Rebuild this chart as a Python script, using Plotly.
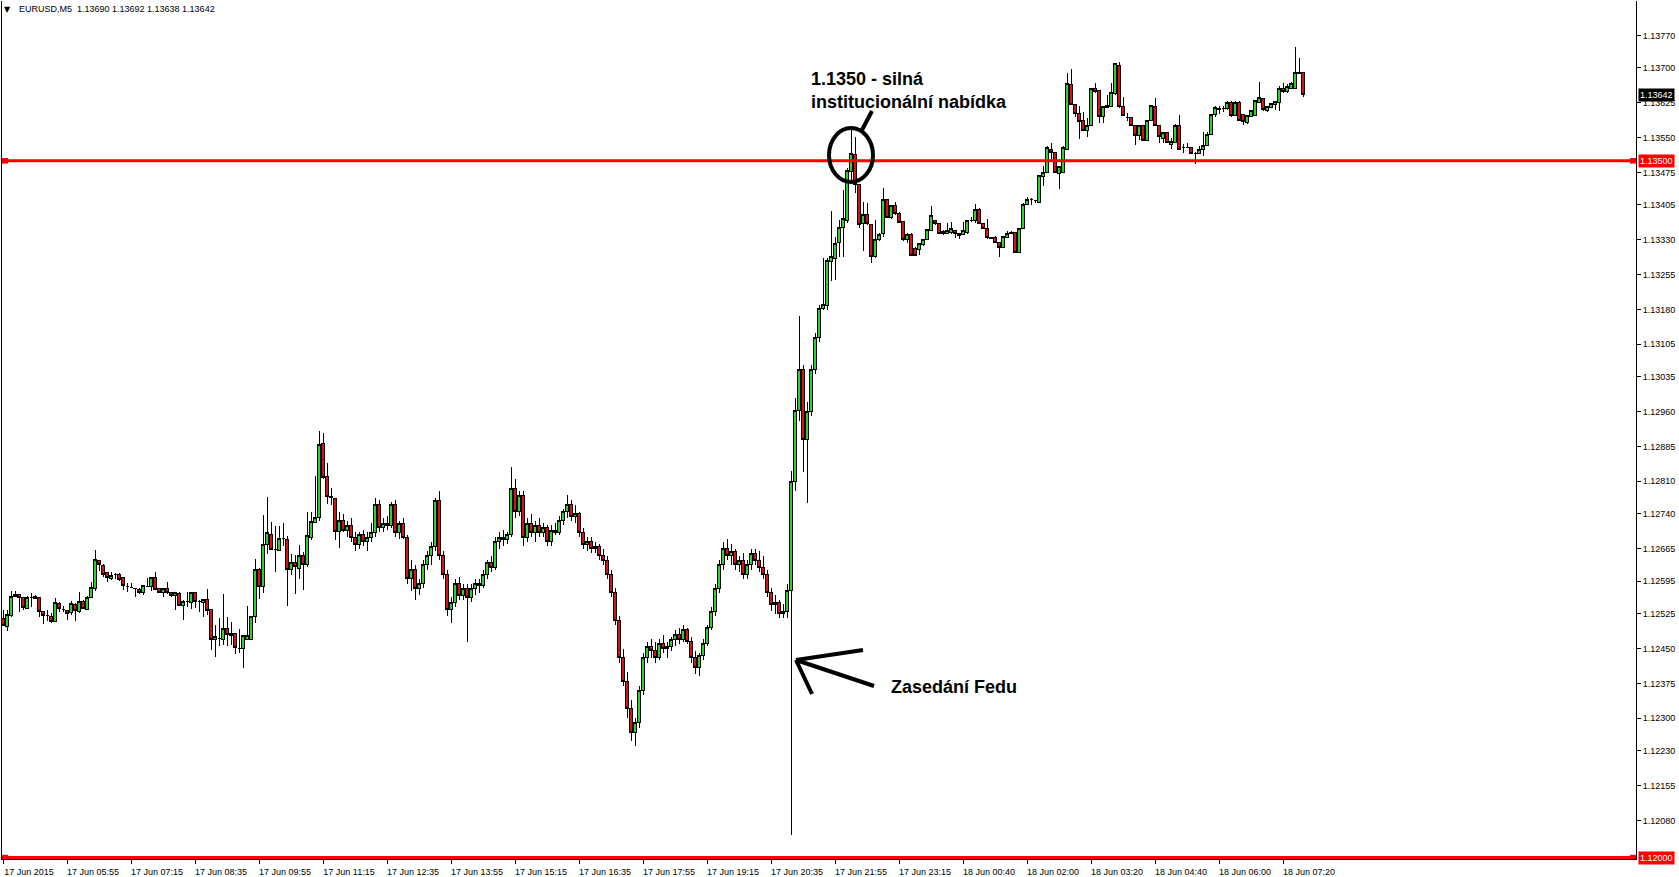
import plotly.graph_objects as go

# ---------------- data (EURUSD M5, prices) ----------------
opens = [
 1.12514,1.12498,1.12521,1.12562,1.12567,1.12559,1.12537,1.12561,1.12558,1.12561,
 1.12529,1.12522,1.12520,1.12509,1.12548,1.12535,1.12533,1.12527,1.12544,1.12530,
 1.12551,1.12535,1.12559,1.12580,1.12639,1.12629,1.12613,1.12600,1.12609,1.12609,
 1.12602,1.12584,1.12582,1.12580,1.12578,1.12571,1.12584,1.12584,1.12602,1.12579,
 1.12570,1.12579,1.12571,1.12565,1.12568,1.12543,1.12552,1.12550,1.12570,1.12551,
 1.12550,1.12555,1.12534,1.12470,1.12472,1.12469,1.12494,1.12478,1.12483,1.12451,
 1.12451,1.12469,1.12470,1.12519,1.12621,1.12584,1.12673,1.12696,1.12663,1.12661,
 1.12686,1.12684,1.12621,1.12636,1.12623,1.12650,1.12630,1.12690,1.12722,1.12733,
 1.12891,1.12821,1.12778,1.12774,1.12702,1.12726,1.12705,1.12715,1.12690,1.12675,
 1.12695,1.12680,1.12690,1.12700,1.12760,1.12710,1.12720,1.12715,1.12760,1.12700,
 1.12720,1.12690,1.12600,1.12620,1.12580,1.12590,1.12630,1.12650,1.12670,1.12768,
 1.12650,1.12610,1.12535,1.12550,1.12590,1.12565,1.12580,1.12560,1.12580,1.12590,
 1.12585,1.12610,1.12635,1.12625,1.12680,1.12690,1.12685,1.12695,1.12795,1.12745,
 1.12780,1.12690,1.12720,1.12700,1.12715,1.12700,1.12710,1.12680,1.12705,1.12700,
 1.12725,1.12745,1.12760,1.12735,1.12740,1.12700,1.12675,1.12680,1.12665,1.12670,
 1.12650,1.12640,1.12610,1.12570,1.12510,1.12430,1.12380,1.12320,1.12270,1.12290,
 1.12360,1.12430,1.12455,1.12445,1.12430,1.12460,1.12450,1.12455,1.12470,1.12480,
 1.12470,1.12490,1.12465,1.12430,1.12410,1.12435,1.12460,1.12495,1.12530,1.12580,
 1.12630,1.12665,1.12650,1.12660,1.12630,1.12640,1.12610,1.12630,1.12655,1.12640,
 1.12625,1.12610,1.12570,1.12545,1.12550,1.12525,1.12530,1.12575,1.12810,1.12963,
 1.13050,1.12900,1.12960,1.13050,1.13120,1.13181,1.13188,1.13283,1.13290,1.13324,
 1.13357,1.13372,1.13477,1.13514,1.13448,1.13364,1.13384,1.13362,1.13294,1.13330,
 1.13343,1.13416,1.13377,1.13403,1.13387,1.13369,1.13331,1.13342,1.13312,1.13310,
 1.13319,1.13331,1.13350,1.13371,1.13364,1.13348,1.13344,1.13346,1.13349,1.13344,
 1.13342,1.13346,1.13372,1.13372,1.13396,1.13364,1.13354,1.13335,1.13334,1.13325,
 1.13314,1.13335,1.13343,1.13346,1.13303,1.13354,1.13407,1.13416,1.13415,1.13410,
 1.13466,1.13475,1.13525,1.13518,1.13473,1.13475,1.13525,1.13665,1.13621,1.13601,
 1.13586,1.13565,1.13575,1.13656,1.13651,1.13595,1.13615,1.13617,1.13644,1.13705,
 1.13616,1.13594,1.13594,1.13576,1.13554,1.13575,1.13544,1.13586,1.13616,1.13575,
 1.13549,1.13560,1.13536,1.13540,1.13575,1.13529,1.13529,1.13529,1.13516,1.13516,
 1.13525,1.13534,1.13557,1.13600,1.13610,1.13613,1.13612,1.13626,1.13597,1.13626,
 1.13599,1.13583,1.13595,1.13597,1.13626,1.13635,1.13608,1.13615,1.13622,1.13626,
 1.13656,1.13649,1.13656,1.13656,1.13690,1.13690]
highs = [
 1.12532,1.12532,1.12575,1.12575,1.12567,1.12559,1.12564,1.12570,1.12565,1.12561,
 1.12529,1.12534,1.12527,1.12559,1.12550,1.12542,1.12533,1.12553,1.12548,1.12571,
 1.12555,1.12563,1.12593,1.12663,1.12641,1.12633,1.12615,1.12614,1.12613,1.12613,
 1.12602,1.12591,1.12592,1.12581,1.12580,1.12587,1.12602,1.12605,1.12615,1.12580,
 1.12580,1.12593,1.12571,1.12572,1.12571,1.12555,1.12571,1.12572,1.12570,1.12555,
 1.12557,1.12578,1.12534,1.12501,1.12516,1.12568,1.12518,1.12507,1.12483,1.12492,
 1.12480,1.12542,1.12521,1.12643,1.12623,1.12738,1.12776,1.12722,1.12713,1.12713,
 1.12720,1.12692,1.12654,1.12651,1.12672,1.12658,1.12744,1.12744,1.12822,1.12919,
 1.12915,1.12850,1.12796,1.12775,1.12743,1.12740,1.12725,1.12730,1.12700,1.12700,
 1.12705,1.12700,1.12720,1.12775,1.12770,1.12730,1.12735,1.12765,1.12770,1.12725,
 1.12730,1.12695,1.12640,1.12630,1.12600,1.12640,1.12660,1.12680,1.12775,1.12790,
 1.12660,1.12620,1.12560,1.12600,1.12605,1.12590,1.12590,1.12590,1.12600,1.12600,
 1.12620,1.12640,1.12650,1.12690,1.12700,1.12705,1.12700,1.12840,1.12815,1.12790,
 1.12790,1.12730,1.12740,1.12725,1.12730,1.12720,1.12715,1.12715,1.12720,1.12735,
 1.12750,1.12780,1.12770,1.12760,1.12745,1.12710,1.12690,1.12690,1.12680,1.12675,
 1.12665,1.12650,1.12620,1.12580,1.12520,1.12450,1.12400,1.12340,1.12300,1.12370,
 1.12440,1.12465,1.12470,1.12465,1.12470,1.12480,1.12465,1.12475,1.12490,1.12495,
 1.12500,1.12495,1.12475,1.12445,1.12440,1.12470,1.12500,1.12540,1.12590,1.12640,
 1.12680,1.12685,1.12675,1.12665,1.12650,1.12655,1.12640,1.12665,1.12665,1.12660,
 1.12650,1.12620,1.12580,1.12565,1.12555,1.12545,1.12590,1.12832,1.12990,1.13166,
 1.13060,1.12980,1.13060,1.13130,1.13190,1.13290,1.13290,1.13392,1.13336,1.13373,
 1.13438,1.13485,1.13570,1.13551,1.13448,1.13412,1.13410,1.13362,1.13373,1.13344,
 1.13441,1.13417,1.13405,1.13411,1.13389,1.13369,1.13344,1.13344,1.13314,1.13321,
 1.13331,1.13354,1.13402,1.13373,1.13364,1.13350,1.13366,1.13369,1.13351,1.13344,
 1.13369,1.13373,1.13380,1.13407,1.13398,1.13364,1.13375,1.13336,1.13339,1.13325,
 1.13339,1.13348,1.13348,1.13346,1.13355,1.13409,1.13423,1.13420,1.13416,1.13468,
 1.13489,1.13531,1.13538,1.13518,1.13489,1.13532,1.13689,1.13697,1.13621,1.13617,
 1.13606,1.13592,1.13656,1.13667,1.13651,1.13617,1.13642,1.13667,1.13710,1.13712,
 1.13637,1.13603,1.13594,1.13576,1.13575,1.13575,1.13586,1.13621,1.13635,1.13575,
 1.13561,1.13560,1.13549,1.13579,1.13599,1.13537,1.13538,1.13529,1.13518,1.13532,
 1.13563,1.13563,1.13600,1.13617,1.13617,1.13618,1.13628,1.13628,1.13628,1.13628,
 1.13599,1.13597,1.13610,1.13629,1.13669,1.13636,1.13617,1.13623,1.13629,1.13660,
 1.13667,1.13665,1.13669,1.13746,1.13721,1.13692]
lows = [
 1.12498,1.12487,1.12518,1.12560,1.12528,1.12532,1.12537,1.12539,1.12557,1.12519,
 1.12502,1.12510,1.12506,1.12509,1.12528,1.12529,1.12511,1.12523,1.12509,1.12527,
 1.12535,1.12535,1.12559,1.12575,1.12618,1.12605,1.12594,1.12598,1.12600,1.12595,
 1.12577,1.12571,1.12580,1.12560,1.12567,1.12565,1.12582,1.12573,1.12577,1.12570,
 1.12560,1.12567,1.12561,1.12534,1.12541,1.12512,1.12539,1.12536,1.12537,1.12528,
 1.12519,1.12523,1.12446,1.12431,1.12455,1.12458,1.12456,1.12458,1.12438,1.12440,
 1.12408,1.12469,1.12468,1.12505,1.12557,1.12570,1.12654,1.12663,1.12615,1.12661,
 1.12670,1.12541,1.12608,1.12567,1.12600,1.12577,1.12625,1.12683,1.12722,1.12724,
 1.12816,1.12762,1.12760,1.12684,1.12667,1.12700,1.12690,1.12680,1.12660,1.12665,
 1.12670,1.12660,1.12680,1.12690,1.12700,1.12700,1.12705,1.12710,1.12690,1.12685,
 1.12685,1.12590,1.12575,1.12555,1.12565,1.12580,1.12620,1.12630,1.12660,1.12640,
 1.12600,1.12520,1.12505,1.12540,1.12555,1.12555,1.12465,1.12550,1.12565,1.12570,
 1.12580,1.12600,1.12615,1.12620,1.12665,1.12670,1.12675,1.12690,1.12730,1.12735,
 1.12670,1.12680,1.12690,1.12680,1.12690,1.12690,1.12670,1.12670,1.12695,1.12695,
 1.12715,1.12730,1.12725,1.12720,1.12690,1.12665,1.12660,1.12655,1.12655,1.12640,
 1.12630,1.12600,1.12560,1.12500,1.12420,1.12370,1.12300,1.12250,1.12240,1.12280,
 1.12350,1.12420,1.12430,1.12420,1.12425,1.12440,1.12430,1.12445,1.12455,1.12460,
 1.12465,1.12460,1.12420,1.12395,1.12390,1.12425,1.12455,1.12490,1.12520,1.12570,
 1.12620,1.12640,1.12630,1.12620,1.12615,1.12600,1.12600,1.12620,1.12630,1.12615,
 1.12600,1.12560,1.12530,1.12525,1.12515,1.12515,1.12515,1.12049,1.12790,1.12940,
 1.12830,1.12763,1.12950,1.13040,1.13110,1.13179,1.13179,1.13242,1.13244,1.13294,
 1.13294,1.13366,1.13452,1.13430,1.13355,1.13305,1.13362,1.13281,1.13290,1.13328,
 1.13336,1.13377,1.13375,1.13384,1.13366,1.13328,1.13323,1.13297,1.13297,1.13298,
 1.13316,1.13330,1.13350,1.13362,1.13342,1.13340,1.13342,1.13342,1.13334,1.13331,
 1.13342,1.13342,1.13369,1.13367,1.13366,1.13353,1.13332,1.13332,1.13325,1.13294,
 1.13314,1.13334,1.13343,1.13303,1.13303,1.13354,1.13405,1.13405,1.13409,1.13410,
 1.13445,1.13475,1.13499,1.13475,1.13439,1.13475,1.13525,1.13622,1.13594,1.13547,
 1.13565,1.13552,1.13575,1.13646,1.13582,1.13581,1.13615,1.13617,1.13642,1.13613,
 1.13597,1.13585,1.13577,1.13533,1.13545,1.13544,1.13544,1.13585,1.13575,1.13538,
 1.13538,1.13538,1.13526,1.13540,1.13524,1.13516,1.13529,1.13516,1.13494,1.13515,
 1.13511,1.13532,1.13557,1.13595,1.13601,1.13606,1.13610,1.13595,1.13597,1.13586,
 1.13577,1.13579,1.13595,1.13597,1.13626,1.13608,1.13606,1.13613,1.13610,1.13608,
 1.13646,1.13646,1.13656,1.13656,1.13687,1.13638]
closes = [
 1.12499,1.12524,1.12562,1.12567,1.12560,1.12539,1.12561,1.12561,1.12563,1.12529,
 1.12522,1.12522,1.12509,1.12550,1.12537,1.12535,1.12526,1.12546,1.12532,1.12552,
 1.12537,1.12561,1.12582,1.12641,1.12630,1.12610,1.12602,1.12608,1.12609,1.12598,
 1.12586,1.12584,1.12582,1.12579,1.12571,1.12585,1.12584,1.12604,1.12578,1.12571,
 1.12580,1.12570,1.12564,1.12570,1.12543,1.12552,1.12552,1.12571,1.12551,1.12551,
 1.12555,1.12532,1.12470,1.12475,1.12472,1.12494,1.12481,1.12483,1.12453,1.12451,
 1.12478,1.12478,1.12519,1.12621,1.12584,1.12673,1.12699,1.12663,1.12663,1.12686,
 1.12686,1.12621,1.12636,1.12626,1.12651,1.12631,1.12693,1.12724,1.12733,1.12889,
 1.12819,1.12778,1.12776,1.12702,1.12726,1.12705,1.12715,1.12690,1.12675,1.12695,
 1.12680,1.12690,1.12700,1.12760,1.12710,1.12720,1.12715,1.12760,1.12700,1.12720,
 1.12690,1.12600,1.12620,1.12580,1.12590,1.12630,1.12650,1.12670,1.12768,1.12650,
 1.12610,1.12535,1.12550,1.12590,1.12565,1.12580,1.12560,1.12580,1.12590,1.12585,
 1.12610,1.12635,1.12625,1.12680,1.12690,1.12685,1.12695,1.12795,1.12745,1.12780,
 1.12690,1.12720,1.12700,1.12715,1.12700,1.12710,1.12680,1.12705,1.12700,1.12725,
 1.12745,1.12760,1.12735,1.12740,1.12700,1.12675,1.12680,1.12665,1.12670,1.12650,
 1.12640,1.12610,1.12570,1.12510,1.12430,1.12380,1.12320,1.12270,1.12290,1.12360,
 1.12430,1.12455,1.12445,1.12430,1.12460,1.12450,1.12455,1.12470,1.12480,1.12470,
 1.12490,1.12465,1.12430,1.12410,1.12435,1.12460,1.12495,1.12530,1.12580,1.12630,
 1.12665,1.12650,1.12660,1.12630,1.12640,1.12610,1.12630,1.12655,1.12640,1.12625,
 1.12610,1.12570,1.12545,1.12550,1.12525,1.12530,1.12575,1.12810,1.12963,1.13050,
 1.12900,1.12960,1.13050,1.13120,1.13181,1.13191,1.13285,1.13293,1.13323,1.13357,
 1.13375,1.13479,1.13516,1.13448,1.13362,1.13384,1.13366,1.13295,1.13331,1.13342,
 1.13416,1.13379,1.13403,1.13386,1.13368,1.13331,1.13342,1.13297,1.13297,1.13321,
 1.13331,1.13353,1.13382,1.13364,1.13343,1.13343,1.13349,1.13354,1.13343,1.13340,
 1.13349,1.13371,1.13372,1.13396,1.13366,1.13354,1.13334,1.13332,1.13325,1.13314,
 1.13336,1.13344,1.13346,1.13303,1.13355,1.13407,1.13417,1.13416,1.13415,1.13468,
 1.13475,1.13529,1.13518,1.13475,1.13488,1.13529,1.13667,1.13622,1.13601,1.13585,
 1.13565,1.13577,1.13656,1.13649,1.13595,1.13617,1.13618,1.13646,1.13710,1.13617,
 1.13597,1.13594,1.13577,1.13554,1.13575,1.13544,1.13586,1.13618,1.13575,1.13552,
 1.13561,1.13539,1.13541,1.13577,1.13524,1.13529,1.13529,1.13516,1.13516,1.13525,
 1.13534,1.13557,1.13600,1.13615,1.13612,1.13613,1.13626,1.13597,1.13626,1.13586,
 1.13585,1.13597,1.13608,1.13629,1.13636,1.13610,1.13617,1.13623,1.13628,1.13656,
 1.13649,1.13661,1.13666,1.13691,1.13689,1.13642]

time_tick_idx = [0,16,32,48,64,80,96,112,128,144,160,176,192,208,224,240,256,272,288,304,320]
time_tick_text = ["17 Jun 2015","17 Jun 05:55","17 Jun 07:15","17 Jun 08:35","17 Jun 09:55",
                  "17 Jun 11:15","17 Jun 12:35","17 Jun 13:55","17 Jun 15:15","17 Jun 16:35",
                  "17 Jun 17:55","17 Jun 19:15","17 Jun 20:35","17 Jun 21:55","17 Jun 23:15",
                  "18 Jun 00:40","18 Jun 02:00","18 Jun 03:20","18 Jun 04:40","18 Jun 06:00",
                  "18 Jun 07:20"]
price_ticks = [1.13770,1.13700,1.13625,1.13550,1.13475,1.13405,1.13330,1.13255,1.13180,
               1.13105,1.13035,1.12960,1.12885,1.12810,1.12740,1.12665,1.12595,1.12525,
               1.12450,1.12375,1.12300,1.12230,1.12155,1.12080]
price_tick_text = [f"{v:.5f}" for v in price_ticks]
level_resistance = 1.13500
level_bottom = 1.12000
last_price = closes[-1]
header = "EURUSD,M5  1.13690 1.13692 1.13638 1.13642"

# ---------------- figure ----------------
W, H = 1679, 877
ML, MR, MT, MB = 2, 43, 1, 18
PW, PH = W - ML - MR, H - MT - MB

def fx(x):  # pixel -> paper x
    return (x - ML) / PW

def fy(y):  # pixel -> paper y
    return (H - MB - y) / PH

idx = list(range(len(opens)))
FONT = "Liberation Sans, Arial, sans-serif"

fig = go.Figure()
fig.add_trace(go.Candlestick(
    x=idx, open=opens, high=highs, low=lows, close=closes,
    increasing=dict(line=dict(color="black", width=1), fillcolor="#2ed12e"),
    decreasing=dict(line=dict(color="black", width=1), fillcolor="#d41414"),
    whiskerwidth=0, showlegend=False, hoverinfo="skip"))

shapes = []
for lv in (level_resistance, level_bottom):
    shapes.append(dict(type="line", xref="paper", yref="y", x0=0, x1=1, y0=lv, y1=lv,
                       line=dict(color="#ff0000", width=3), layer="above"))
    for xa, xb in ((fx(2), fx(8)), (fx(1630), fx(1636))):
        shapes.append(dict(type="rect", xref="paper", yref="y", x0=xa, x1=xb,
                           y0=lv - 0.00006, y1=lv + 0.00006, fillcolor="#ff0000",
                           line=dict(width=0), layer="above"))
# circle + pointer
shapes.append(dict(type="circle", xref="paper", yref="paper",
                   x0=fx(829), x1=fx(873), y0=fy(182), y1=fy(128),
                   line=dict(color="black", width=4)))
shapes.append(dict(type="line", xref="paper", yref="paper",
                   x0=fx(862), y0=fy(130), x1=fx(872), y1=fy(111),
                   line=dict(color="black", width=4)))
# arrow
for (x0, y0, x1, y1) in [(874, 686, 796, 660), (796, 660, 863, 650), (796, 660, 812, 694)]:
    shapes.append(dict(type="line", xref="paper", yref="paper",
                       x0=fx(x0), y0=fy(y0), x1=fx(x1), y1=fy(y1),
                       line=dict(color="black", width=4)))

annotations = [
    dict(xref="paper", yref="paper", x=fx(2), y=fy(9), xanchor="left", yanchor="middle",
         text="▼", showarrow=False, font=dict(family="DejaVu Sans", size=8, color="black")),
    dict(xref="paper", yref="paper", x=fx(17), y=fy(9), xanchor="left", yanchor="middle",
         text=header, showarrow=False, font=dict(family=FONT, size=9, color="black")),
    dict(xref="paper", yref="paper", x=fx(809), y=fy(67), xanchor="left", yanchor="top",
         align="left", text="<b>1.1350 - silná<br>institucionální nabídka</b>", showarrow=False,
         font=dict(family=FONT, size=18, color="black")),
    dict(xref="paper", yref="paper", x=fx(889), y=fy(687), xanchor="left", yanchor="middle",
         text="<b>Zasedání Fedu</b>", showarrow=False,
         font=dict(family=FONT, size=18, color="black")),
]
for val, bg in ((last_price, "black"), (level_resistance, "#ff0000"), (level_bottom, "#ff0000")):
    annotations.append(dict(xref="paper", yref="y", x=fx(1638), y=val, xanchor="left",
                            yanchor="middle", text=f"{val:.5f}", showarrow=False,
                            bgcolor=bg, borderpad=1,
                            font=dict(family=FONT, size=9, color="white")))

fig.update_layout(
    width=W, height=H, margin=dict(l=ML, r=MR, t=MT, b=MB),
    paper_bgcolor="white", plot_bgcolor="white",
    shapes=shapes, annotations=annotations, showlegend=False,
    boxgap=0.25, boxgroupgap=0,
    xaxis=dict(range=[-0.25, 408.25], tickvals=time_tick_idx, ticktext=time_tick_text,
               ticks="outside", ticklen=4, tickcolor="black", showline=True, mirror=False,
               linecolor="black", showgrid=False, zeroline=False, rangeslider=dict(visible=False),
               ticklabelshift=26, tickfont=dict(family=FONT, size=9, color="black")),
    yaxis=dict(range=[1.11997, 1.13844], side="right", tickvals=price_ticks, ticktext=price_tick_text,
               ticks="outside", ticklen=4, tickcolor="black", showline=True, mirror=True,
               linecolor="black", showgrid=False, zeroline=False,
               tickfont=dict(family=FONT, size=9, color="black")),
)
post = ("document.body.style.margin='0';"
        "document.querySelectorAll('.boxlayer path').forEach(function(p){"
        "p.style.shapeRendering='crispEdges';});")
fig.write_html("out.html", config={"displayModeBar": False}, post_script=post)
